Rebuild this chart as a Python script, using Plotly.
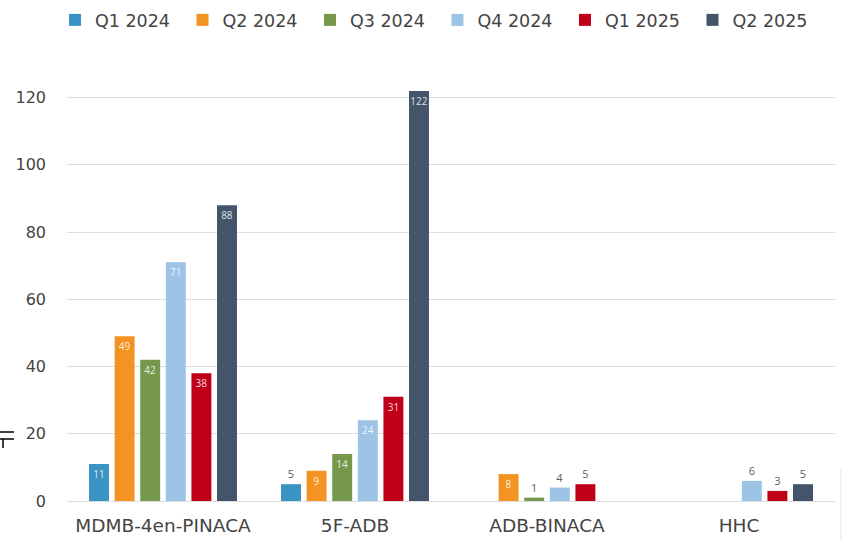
import plotly.graph_objects as go

categories = ["MDMB-4en-PINACA", "5F-ADB", "ADB-BINACA", "HHC"]
series_names = ["Q1 2024", "Q2 2024", "Q3 2024", "Q4 2024", "Q1 2025", "Q2 2025"]
q1_2024 = [11, 5, None, None]
q2_2024 = [49, 9, 8, None]
q3_2024 = [42, 14, 1, None]
q4_2024 = [71, 24, 4, 6]
q1_2025 = [38, 31, 5, 3]
q2_2025 = [88, 122, None, 5]
series_values = [q1_2024, q2_2024, q3_2024, q4_2024, q1_2025, q2_2025]
colors = ["#3A93C3", "#F39322", "#76984C", "#9DC3E6", "#C00018", "#44546A"]
y_ticks = [0, 20, 40, 60, 80, 100, 120]

FONT = "DejaVu Sans"
W, H = 846, 541
L, R, T, B = 67, 11, 64, 40
PW = W - L - R
PH = H - T - B


def px_x(x):
    return (x - L) / PW


def px_y(y):
    return (H - B - y) / PH


fig = go.Figure()
for name, vals, col in zip(series_names, series_values, colors):
    text = ["" if v is None else str(v) for v in vals]
    pos = ["inside" if (v is not None and v >= 8) else "outside" for v in vals]
    fig.add_trace(go.Bar(
        name=name, x=categories, y=vals, marker_color=col,
        marker_line_width=0,
        text=text, textposition=pos, insidetextanchor="end", textangle=0,
        insidetextfont=dict(family="Open Sans", size=10, color="rgba(255,255,255,0.85)"),
        outsidetextfont=dict(family="Open Sans", size=11, color="#5E5E5E"),
        cliponaxis=False, constraintext="none",
    ))

fig.update_layout(
    width=W, height=H,
    margin=dict(l=L, r=R, t=T, b=B, pad=0),
    paper_bgcolor="white", plot_bgcolor="white",
    barmode="group", bargap=0.2, bargroupgap=0.22,
    font=dict(family=FONT, color="#444444"),
    showlegend=True,
    legend=dict(
        orientation="h", xref="container", yref="container",
        x=55 / W, xanchor="left", y=1 - 20 / H, yanchor="middle",
        font=dict(family=FONT, size=17.5, color="#444444"),
        entrywidth=82.5, entrywidthmode="pixels", itemclick=False,
    ),
    uniformtext=dict(mode=False),
    xaxis=dict(
        tickfont=dict(family=FONT, size=18.5, color="#444444"),
        showgrid=False, showline=False, ticks="", ticklabelstandoff=11,
        automargin=False,
    ),
    yaxis=dict(
        range=[0, 130], tickvals=y_ticks, showgrid=True, gridcolor="#DDDDDD",
        gridwidth=1, zeroline=True, zerolinecolor="#DDDDDD", zerolinewidth=1,
        tickfont=dict(family=FONT, size=16, color="#444444"),
        ticks="", showline=False, ticklabelstandoff=20, automargin=False,
    ),
    shapes=[
        dict(type="line", xref="paper", yref="paper", x0=px_x(0), x1=px_x(14),
             y0=px_y(432), y1=px_y(432), line=dict(color="black", width=1.5)),
        dict(type="line", xref="paper", yref="paper", x0=px_x(0), x1=px_x(14),
             y0=px_y(439), y1=px_y(439), line=dict(color="black", width=1.5)),
        dict(type="line", xref="paper", yref="paper", x0=px_x(3), x1=px_x(3),
             y0=px_y(439), y1=px_y(448), line=dict(color="black", width=1.5)),
        dict(type="line", xref="paper", yref="paper", x0=px_x(841), x1=px_x(841),
             y0=px_y(468), y1=px_y(541), line=dict(color="#E6E6E6", width=1)),
    ],
)

fig.write_html("out.html", config={"displayModeBar": False},
               post_script="document.body.style.margin='0';")
